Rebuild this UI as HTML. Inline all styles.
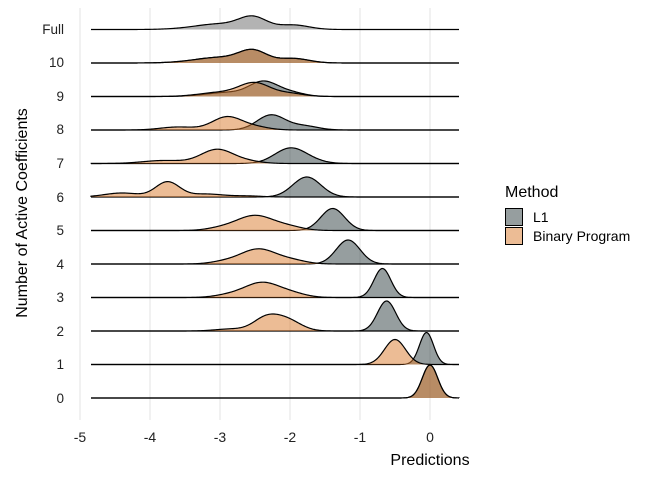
<!DOCTYPE html>
<html><head><meta charset="utf-8"><style>
body{margin:0;background:#fff;}
svg{display:block;font-family:"Liberation Sans",sans-serif;}
</style></head><body>
<svg id="s" width="672" height="480" xmlns="http://www.w3.org/2000/svg">
<g id="grid" stroke="#e3e3e3" stroke-width="1"></g>
<g id="curves"></g>
<g font-size="14" fill="#222" text-anchor="middle">
<text x="80" y="442">-5</text><text x="150" y="442">-4</text><text x="220" y="442">-3</text>
<text x="290" y="442">-2</text><text x="360" y="442">-1</text><text x="430" y="442">0</text>
</g>
<g font-size="13.5" fill="#222" text-anchor="end">
<text x="64" y="403">0</text><text x="64" y="369">1</text><text x="64" y="336">2</text>
<text x="64" y="302">3</text><text x="64" y="269">4</text><text x="64" y="235">5</text>
<text x="64" y="202">6</text><text x="64" y="168">7</text><text x="64" y="134">8</text>
<text x="64" y="101">9</text><text x="64" y="67">10</text><text x="64" y="34">Full</text>
</g>
<text x="430" y="465" font-size="16" text-anchor="middle" fill="#000">Predictions</text>
<text transform="translate(27,213) rotate(-90)" font-size="16" text-anchor="middle" fill="#000">Number of Active Coefficients</text>
<text x="505" y="197" font-size="16" fill="#000">Method</text>
<rect x="505.5" y="208.5" width="17" height="17" fill="#969e9f" stroke="#000"/>
<rect x="505.5" y="227.5" width="17" height="17" fill="#ecbc95" stroke="#000"/>
<text x="533" y="222" font-size="14" fill="#000">L1</text>
<text x="533" y="241" font-size="14" fill="#000">Binary Program</text>
</svg>
<script>
var NS="http://www.w3.org/2000/svg";
var g=document.getElementById("grid"),c=document.getElementById("curves");
function X(v){return 430+70*v;}
for(var v=-5;v<=0;v++){var l=document.createElementNS(NS,"line");l.setAttribute("x1",X(v));l.setAttribute("x2",X(v));l.setAttribute("y1",8);l.setAttribute("y2",420);g.appendChild(l);}
var base=[398,364.5,331,297.5,264,230.5,197,163.5,130,96.5,63,29.5];
var full=[[-2.53,0.2,12],[-3.0,0.3,5],[-1.95,0.22,4.5],[-3.4,0.3,1]];
var D={
0:{L:[[0,0.11,33]],B:[[0,0.11,33]]},
1:{L:[[-0.05,0.1,32]],B:[[-0.5,0.15,25]]},
2:{L:[[-0.62,0.13,30]],B:[[-2.35,0.18,12],[-2.05,0.2,11],[-2.85,0.22,2]]},
3:{L:[[-0.68,0.12,29]],B:[[-2.4,0.26,15],[-1.95,0.2,3],[-2.9,0.2,2]]},
4:{L:[[-1.17,0.17,24]],B:[[-2.45,0.26,15],[-1.95,0.2,3],[-2.95,0.2,2]]},
5:{L:[[-1.39,0.17,22]],B:[[-2.5,0.27,15],[-2.0,0.2,3],[-3.0,0.2,2]]},
6:{L:[[-1.76,0.2,20]],B:[[-3.75,0.17,15],[-4.4,0.25,4],[-3.2,0.25,3],[-2.6,0.2,1]]},
7:{L:[[-2.0,0.22,15],[-1.7,0.2,2]],B:[[-3.04,0.23,14],[-3.8,0.3,3],[-2.6,0.2,2]]},
8:{L:[[-2.27,0.2,15],[-1.8,0.2,4]],B:[[-2.9,0.21,13],[-3.6,0.25,3],[-2.5,0.2,3]]},
9:{L:[[-2.38,0.2,14],[-2.0,0.2,4],[-2.9,0.3,4]],B:[[-2.5,0.22,13],[-2.0,0.2,3],[-3.0,0.3,4]]},
10:{L:full,B:full}
};
function path(comps,b){var d="M91,"+b;for(var x=91;x<=459;x+=1){var v=(x-430)/70,h=0;comps.forEach(function(k){h+=k[2]*Math.exp(-0.5*Math.pow((v-k[0])/k[1],2));});d+=" L"+x+","+(b-h).toFixed(2);}return d+" L459,"+b;}
function add(d,fill){var p=document.createElementNS(NS,"path");p.setAttribute("d",d);p.setAttribute("fill",fill);p.setAttribute("stroke","#000");p.setAttribute("stroke-width","1.2");c.appendChild(p);}
for(var i=11;i>=0;i--){var b=base[i];
 if(i==11){add(path(full,b),"#b3b3b3");continue;}
 add(path(D[i].L,b),"rgba(46,62,64,0.5)");
 add(path(D[i].B,b),"rgba(217,122,43,0.5)");
}
</script>
</body></html>
